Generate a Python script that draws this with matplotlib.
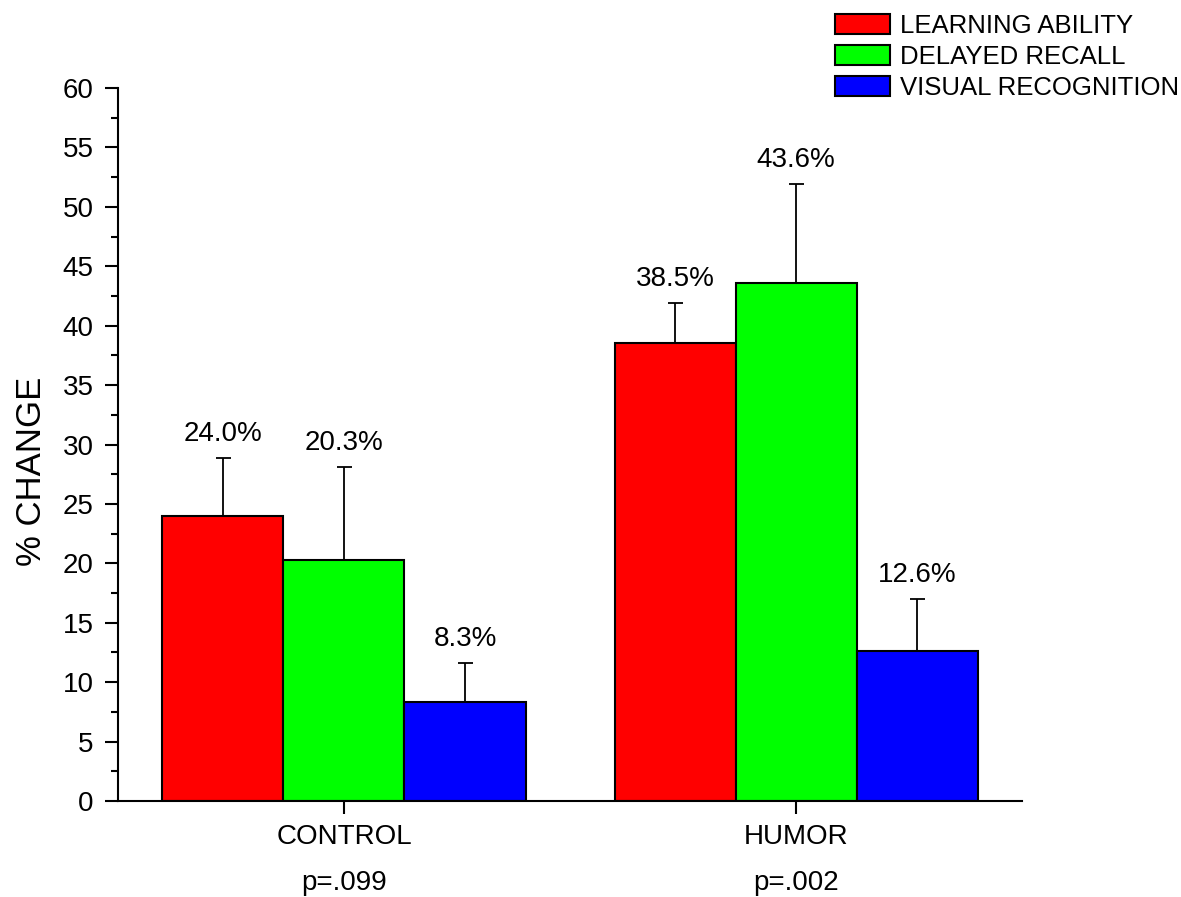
import matplotlib
matplotlib.use("Agg")
import matplotlib.pyplot as plt
import numpy as np
from matplotlib.ticker import MultipleLocator

plt.rcParams['font.family'] = ['Liberation Sans', 'DejaVu Sans']

categories = ['CONTROL', 'HUMOR']
p_values = ['p=.099', 'p=.002']
series_names = ['LEARNING ABILITY', 'DELAYED RECALL', 'VISUAL RECOGNITION']
learning = [24.0, 38.5]
delayed = [20.3, 43.6]
visual = [8.3, 12.6]
learning_err = [4.85, 3.4]
delayed_err = [7.8, 8.3]
visual_err = [3.3, 4.4]
colors = ['#FF0000', '#00FF00', '#0000FF']

values = [learning, delayed, visual]
errors = [learning_err, delayed_err, visual_err]

fig = plt.figure(figsize=(11.81, 8.97), dpi=100)
ax = fig.add_axes([0.0999, 0.1070, 0.7655, 0.7949])

x = np.arange(len(categories))
w = 0.2677
handles = []
for i, (vals, errs, col, name) in enumerate(zip(values, errors, colors, series_names)):
    xs = x + (i - 1) * w
    ax.errorbar(xs, vals, yerr=[np.zeros(len(errs)), errs], fmt='none',
                ecolor='black', elinewidth=1.3, capsize=5.4, capthick=1.3, zorder=1)
    b = ax.bar(xs, vals, width=w, color=col, edgecolor='black', linewidth=1.5,
               label=name, zorder=2)
    handles.append(b)
    for xi, v, e in zip(xs, vals, errs):
        ax.annotate(f"{v:.1f}%", xy=(xi, v + e), xytext=(0, 8),
                    textcoords='offset points', ha='center', va='bottom', fontsize=20)

ax.set_xlim(-0.5, 1.5)
ax.set_ylim(0, 60)
ax.set_xticks(x)
ax.set_xticklabels(categories, fontsize=20)
ax.yaxis.set_major_locator(MultipleLocator(5))
ax.yaxis.set_minor_locator(MultipleLocator(2.5))
ax.tick_params(axis='y', which='major', length=9.5, width=1.5, labelsize=20, pad=8)
ax.tick_params(axis='y', which='minor', length=5, width=1.5)
ax.tick_params(axis='x', which='major', length=9.5, width=1.5, pad=7)
for s in ['top', 'right']:
    ax.spines[s].set_visible(False)
for s in ['left', 'bottom']:
    ax.spines[s].set_linewidth(1.5)

ax.set_ylabel('% CHANGE', fontsize=25)
ax.yaxis.set_label_coords(-0.077, 0.462)

for xi, p in zip(x, p_values):
    ax.annotate(p, xy=(xi, 0), xycoords=('data', 'axes fraction'), xytext=(0, -59),
                textcoords='offset points', ha='center', va='center', fontsize=20)

fig.legend(handles=handles, labels=series_names, loc='upper left',
           bbox_to_anchor=(835 / 1181, 1 - 14 / 897), frameon=False, fontsize=18.5,
           handlelength=2.14, handleheight=0.78, labelspacing=0.27,
           handletextpad=0.39, borderpad=0, borderaxespad=0)

fig.savefig('out.png', dpi=100)
